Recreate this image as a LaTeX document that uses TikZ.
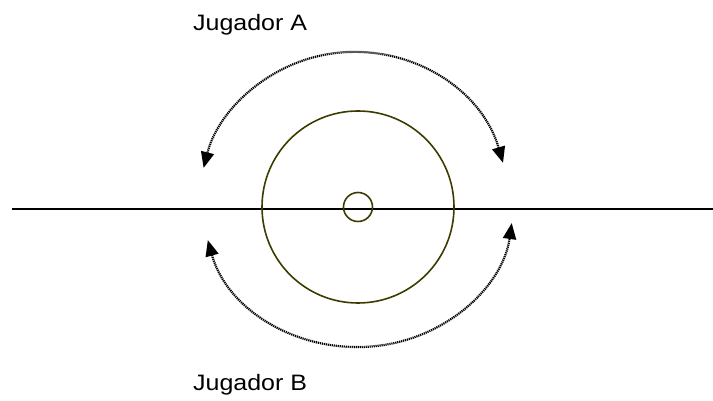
\documentclass[tikz,border=0pt]{standalone}
\usepackage{fontspec}
\setmainfont{Liberation Sans}
\newfontfamily\playerfont[FakeStretch=1.12]{Liberation Sans}
\usetikzlibrary{arrows.meta,calc}
\definecolor{discolive}{RGB}{60,60,0}

\begin{document}
\begin{tikzpicture}[x=1pt,y=1pt,
    turnarrow/.style={line width=2.2pt,dash pattern=on 1.2pt off 0.8pt,{Triangle[length=16pt,width=13pt]}-{Triangle[length=16pt,width=13pt]}},
    disc/.style={draw=discolive,line width=1.6pt},
    player/.style={font=\playerfont\fontsize{22.3}{26}\selectfont,anchor=base west,inner sep=0pt}]
  \useasboundingbox (0,0) rectangle (713,401);
  \coordinate (centre) at (358,194);
  \coordinate (topc) at (354,196);
  \coordinate (botc) at (358,196);
  % table line and discs
  \draw[line width=1.6pt] (12,192) -- (713,192);
  \draw[disc] (centre) circle[radius=96];
  \draw[disc] (centre) circle[radius=14.5];
  % players and their turns
  \node[player] (jugA) at (193,370) {Jugador A};
  \node[player] (jugB) at (193,10) {Jugador B};
  \draw[turnarrow] ($(topc)+(16:155 and 153)$) arc[start angle=16,end angle=166,x radius=155,y radius=153];
  \draw[turnarrow] ($(botc)+(194.3:155 and 142)$) arc[start angle=194.3,end angle=352.7,x radius=155,y radius=142];
\end{tikzpicture}
\end{document}
